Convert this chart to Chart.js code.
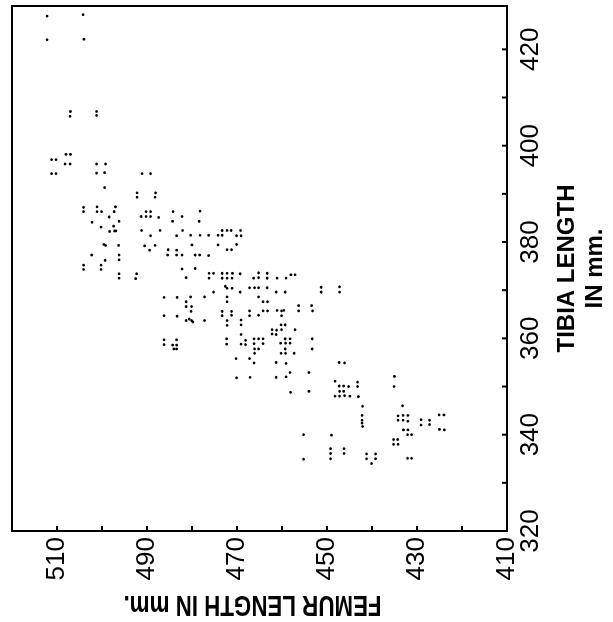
<!DOCTYPE html>
<html>
<head>
<meta charset="utf-8">
<script src="https://cdn.jsdelivr.net/npm/chart.js@4.4.1/dist/chart.umd.min.js"></script>
<style>
  html, body { margin: 0; padding: 0; background: #fff; overflow: hidden; }
  /* the plot is built tibia-across / femur-up, then turned a quarter turn */
  #wrap {
    position: absolute; left: 0; top: 0;
    width: 622px; height: 613px;
    transform-origin: 0 0;
    transform: translate(0, 622px) rotate(-90deg);
  }
</style>
</head>
<body>
<div id="wrap"><canvas id="chart" width="622" height="613"></canvas></div>
<script>
// femur / tibia lengths (mm), one entry per specimen
const femurLength = [
  512.2, 504.2, 512.2, 504.0, 507.0, 507.1, 501.2, 501.2, 508.0, 507.0,
  511.2, 510.2, 508.2, 507.1, 501.2, 499.2, 511.2, 510.2, 501.2, 499.4,
  491.1, 489.2, 499.4, 492.2, 492.2, 488.1, 488.2, 504.1, 504.1, 501.1,
  501.1, 500.1, 497.0, 497.3, 498.4, 491.3, 490.2, 489.2, 490.2, 489.2,
  487.4, 484.2, 478.2, 482.2, 502.2, 496.2, 500.2, 497.4, 484.3, 478.4,
  498.3, 497.2, 496.9, 491.2, 487.1, 482.1, 473.3, 472.2, 471.3, 469.2,
  489.2, 483.4, 480.3, 478.2, 476.3, 474.2, 473.3, 470.1, 469.1, 499.6,
  499.2, 496.3, 490.5, 488.2, 480.0, 474.2, 470.1, 489.4, 485.3, 483.4,
  472.2, 471.2, 502.3, 496.2, 485.4, 483.4, 482.2, 479.3, 478.3, 476.3,
  499.3, 496.2, 504.1, 504.1, 500.2, 500.2, 482.2, 479.3, 476.2, 475.2,
  473.3, 472.2, 471.0, 469.3, 465.2, 463.3, 496.2, 492.3, 496.2, 492.5,
  481.3, 476.2, 473.3, 472.2, 471.1, 466.3, 465.2, 463.3, 461.1, 459.1,
  458.0, 457.1, 472.6, 472.2, 471.1, 475.2, 469.3, 467.2, 466.1, 465.2,
  463.3, 461.3, 459.3, 451.3, 447.2, 451.3, 447.2, 486.2, 483.3, 480.3,
  477.2, 472.2, 465.2, 481.3, 472.2, 464.2, 463.2, 481.3, 480.1, 456.3,
  453.4, 456.3, 453.2, 480.2, 473.3, 471.2, 467.2, 464.2, 463.2, 461.1,
  460.1, 459.6, 486.2, 483.3, 473.3, 471.2, 467.2, 465.2, 460.1, 481.3,
  480.6, 480.1, 479.8, 477.2, 472.2, 469.1, 472.2, 469.1, 460.2, 459.3,
  462.2, 461.2, 460.1, 457.1, 462.2, 461.3, 469.1, 486.2, 483.4, 486.2,
  484.3, 483.4, 484.0, 483.4, 472.3, 472.3, 469.1, 468.1, 468.1, 466.2,
  465.2, 464.2, 466.2, 464.2, 466.1, 465.2, 466.1, 460.3, 459.3, 458.2,
  459.2, 458.2, 453.3, 453.3, 459.3, 460.2, 459.2, 457.3, 470.2, 467.2,
  466.2, 461.3, 459.1, 458.2, 454.0, 470.1, 467.1, 459.1, 461.3, 458.1,
  454.0, 447.3, 446.1, 448.2, 447.3, 446.3, 445.2, 443.2, 443.2, 447.2,
  446.3, 448.2, 447.2, 446.1, 444.9, 443.0, 442.1, 442.2, 442.2, 442.2,
  442.1, 435.0, 435.1, 433.2, 434.2, 433.1, 432.0, 434.2, 433.1, 432.0,
  433.0, 432.0, 432.1, 431.2, 429.1, 429.1, 427.2, 427.2, 425.1, 424.0,
  425.0, 423.9, 435.2, 434.3, 435.2, 434.2, 432.1, 431.2, 455.2, 449.0,
  449.2, 446.2, 449.2, 446.2, 449.2, 455.2, 441.2, 439.2, 441.2, 439.2, 440.1
];
const tibiaLength = [
  426.9, 427.2, 422.0, 422.1, 407.1, 406.1, 407.1, 406.3, 398.2, 398.2,
  397.1, 397.1, 396.2, 396.2, 396.2, 396.2, 394.2, 394.2, 394.3, 394.4,
  394.2, 394.2, 391.3, 390.2, 389.3, 390.2, 389.3, 387.2, 386.3, 387.3,
  386.3, 386.3, 387.3, 386.3, 385.2, 385.3, 386.3, 386.3, 385.3, 385.3,
  385.1, 386.3, 386.4, 385.3, 384.1, 384.3, 383.1, 383.3, 384.3, 384.3,
  382.2, 382.3, 382.3, 382.4, 382.4, 382.4, 382.4, 382.4, 382.4, 382.4,
  381.3, 381.3, 381.4, 381.4, 381.4, 381.4, 381.4, 381.3, 381.3, 379.5,
  379.3, 379.3, 379.2, 379.3, 379.4, 379.4, 379.5, 378.3, 378.4, 378.3,
  378.4, 378.4, 377.3, 377.3, 377.3, 377.3, 377.3, 377.3, 377.3, 377.2,
  376.2, 376.3, 375.2, 374.3, 375.2, 374.3, 374.4, 374.5, 373.5, 373.5,
  373.5, 373.5, 373.5, 373.4, 373.6, 373.5, 373.4, 373.4, 372.5, 372.4,
  372.6, 372.5, 372.5, 372.5, 372.5, 372.5, 372.6, 372.5, 372.5, 372.5,
  373.2, 373.2, 370.8, 370.4, 370.4, 369.6, 369.6, 370.5, 370.5, 370.5,
  370.5, 369.6, 369.6, 370.6, 370.7, 369.6, 369.6, 368.5, 368.5, 368.6,
  368.6, 368.6, 368.6, 367.6, 367.6, 367.6, 367.6, 366.6, 366.6, 366.8,
  366.8, 365.7, 365.7, 365.6, 365.6, 365.6, 365.7, 365.7, 365.7, 365.8,
  365.7, 365.8, 364.7, 364.6, 364.7, 364.8, 364.7, 364.8, 364.7, 363.7,
  364.0, 363.7, 363.4, 363.7, 363.7, 363.8, 362.7, 362.8, 362.8, 362.8,
  361.8, 361.7, 361.8, 361.8, 360.9, 360.8, 360.8, 359.7, 359.7, 358.7,
  358.6, 358.6, 357.8, 357.8, 359.9, 358.8, 358.8, 359.6, 358.7, 359.9,
  359.9, 359.9, 358.9, 358.9, 357.8, 357.8, 356.9, 359.0, 359.9, 359.9,
  359.0, 359.0, 359.9, 357.8, 357.8, 356.9, 356.9, 356.9, 355.8, 355.8,
  354.9, 355.0, 354.8, 352.9, 352.9, 351.8, 351.9, 352.0, 351.9, 348.8,
  349.0, 355.0, 354.9, 351.1, 350.1, 350.1, 350.0, 350.9, 350.0, 349.0,
  349.0, 348.0, 348.0, 348.1, 348.0, 347.9, 345.9, 344.0, 343.0, 342.4,
  341.7, 352.1, 350.0, 346.0, 343.9, 344.0, 344.0, 343.0, 343.0, 342.8,
  341.0, 341.0, 340.0, 340.0, 343.1, 342.0, 343.0, 342.1, 344.1, 344.1,
  341.1, 341.0, 339.0, 339.0, 338.0, 338.0, 335.1, 335.1, 340.0, 339.9,
  337.1, 337.1, 336.1, 336.1, 335.0, 334.9, 336.0, 336.0, 335.0, 335.0, 334.0
];

// axis ticks every 10 mm, numbered every 20 mm
const tibiaTicks = [320, 330, 340, 350, 360, 370, 380, 390, 400, 410, 420];
const tibiaLabels = [320, 340, 360, 380, 400, 420];
const femurTicks = [410, 420, 430, 440, 450, 460, 470, 480, 490, 500, 510];
const femurLabels = [410, 430, 450, 470, 490, 510];
const femurTitle = 'FEMUR LENGTH IN mm.';

const tickFont = { family: "'Liberation Sans', Arial, sans-serif", size: 26 };

// closed frame with short inward tick marks, plus the condensed femur caption
const frameAndTicks = {
  id: 'frameAndTicks',
  afterDatasetsDraw(chart) {
    const { ctx, chartArea: a, scales } = chart;
    ctx.save();
    ctx.strokeStyle = '#000';
    ctx.lineWidth = 2;
    ctx.strokeRect(a.left, a.top, a.right - a.left, a.bottom - a.top);
    ctx.beginPath();
    scales.x.ticks.forEach(t => {
      const px = scales.x.getPixelForValue(t.value);
      if (px <= a.left + 1 || px >= a.right - 1) return;
      ctx.moveTo(px, a.bottom);
      ctx.lineTo(px, a.bottom - 5);
    });
    scales.y.ticks.forEach(t => {
      const py = scales.y.getPixelForValue(t.value);
      if (py <= a.top + 1 || py >= a.bottom - 1) return;
      ctx.moveTo(a.left, py);
      ctx.lineTo(a.left + 5, py);
    });
    ctx.stroke();
    ctx.restore();
  },
  afterDraw(chart) {
    const { ctx, chartArea: a } = chart;
    ctx.save();
    ctx.translate(18, (a.top + a.bottom) / 2 - 7);
    ctx.rotate(-Math.PI / 2);
    ctx.scale(0.77, 1);
    ctx.fillStyle = '#000';
    ctx.font = "bold 29px 'Liberation Sans', Arial, sans-serif";
    ctx.textAlign = 'center';
    ctx.textBaseline = 'middle';
    ctx.fillText(femurTitle, 0, 0);
    ctx.restore();
  }
};

new Chart(document.getElementById('chart'), {
  type: 'scatter',
  data: {
    datasets: [{
      data: tibiaLength.map((t, i) => ({ x: t, y: femurLength[i] })),
      backgroundColor: '#000',
      borderWidth: 0,
      pointRadius: 1.4,
      pointHoverRadius: 1.4
    }]
  },
  options: {
    responsive: false,
    animation: false,
    devicePixelRatio: 1,
    events: [],
    layout: { padding: { top: 12, right: 6, left: 0, bottom: 0 } },
    plugins: { legend: { display: false }, tooltip: { enabled: false } },
    scales: {
      x: {
        type: 'linear',
        position: 'bottom',
        min: 320,
        max: 429,
        grid: { display: false, drawTicks: false },
        border: { display: false },
        afterBuildTicks: s => { s.ticks = tibiaTicks.map(v => ({ value: v })); },
        afterFit: s => { s.height = 106; s.paddingLeft = 0; s.paddingRight = 0; },
        ticks: {
          autoSkip: false,
          maxRotation: 0,
          minRotation: 0,
          padding: 8,
          color: '#000',
          font: tickFont,
          callback: v => tibiaLabels.includes(v) ? String(v) : ''
        },
        title: {
          display: true,
          text: ['TIBIA LENGTH', 'IN mm.'],
          color: '#000',
          font: { family: "'Liberation Sans', Arial, sans-serif", size: 24, weight: 'bold', lineHeight: 1.15 },
          padding: { top: 0, bottom: 4 }
        }
      },
      y: {
        type: 'linear',
        position: 'left',
        min: 410,
        max: 520,
        grid: { display: false, drawTicks: false },
        border: { display: false },
        afterBuildTicks: s => { s.ticks = femurTicks.map(v => ({ value: v })); },
        afterFit: s => { s.width = 91; s.paddingTop = 0; s.paddingBottom = 0; },
        ticks: {
          autoSkip: false,
          padding: 6,
          color: '#000',
          font: tickFont,
          callback: v => femurLabels.includes(v) ? String(v) : ''
        },
        title: { display: false }
      }
    }
  },
  plugins: [frameAndTicks]
});
</script>
</body>
</html>
